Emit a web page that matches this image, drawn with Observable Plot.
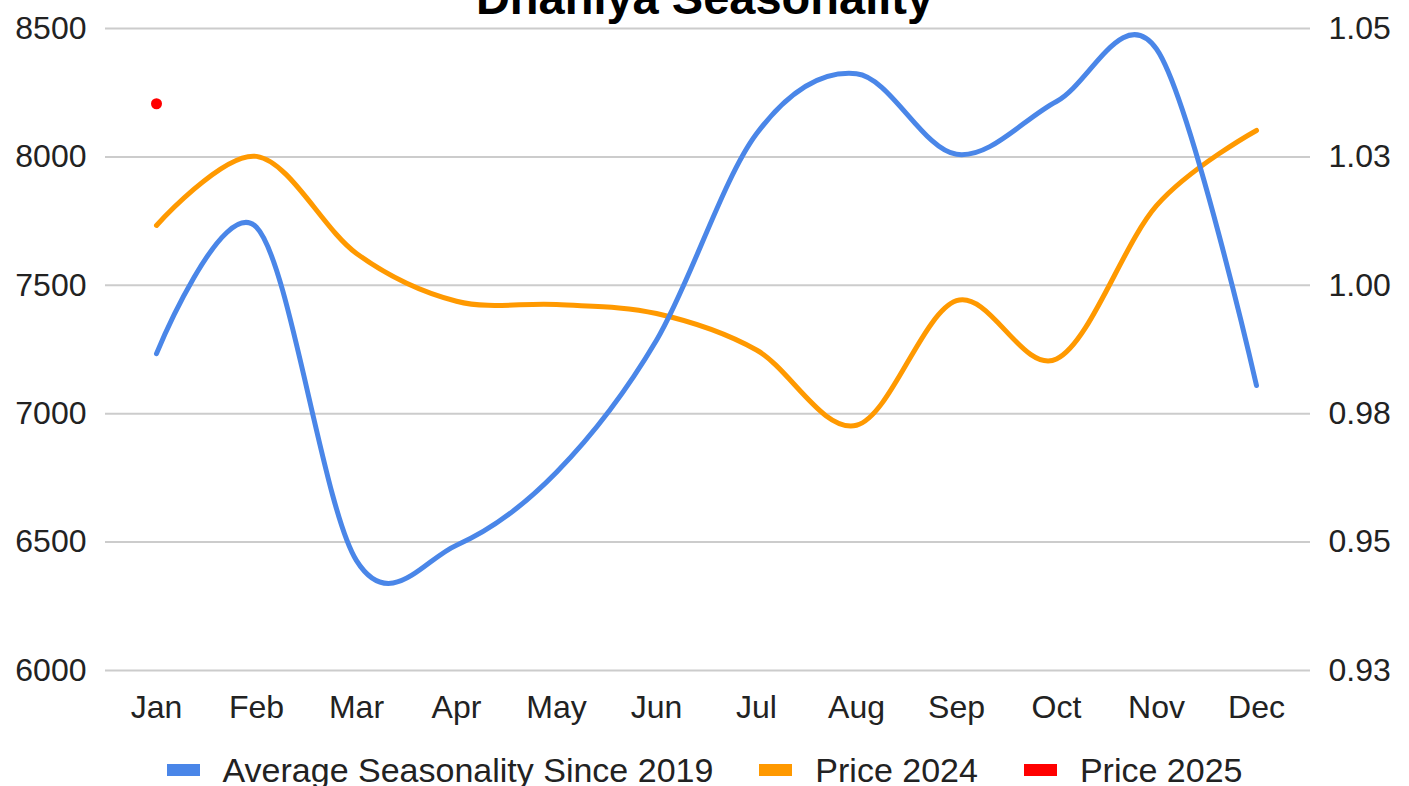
<!DOCTYPE html>
<html>
<head>
<meta charset="utf-8">
<script src="https://cdn.jsdelivr.net/npm/d3@7"></script>
<script src="https://cdn.jsdelivr.net/npm/@observablehq/plot@0.6"></script>
<style>
  html, body { margin: 0; padding: 0; background: #fff; }
  #wrap { position: relative; width: 1409px; height: 786px; overflow: hidden; font-family: Arial, "Liberation Sans", sans-serif; }
  #title { position: absolute; left: 0; width: 1409px; top: -26px; text-align: center; font-size: 47px; line-height: 47px; font-weight: bold; color: #000; }
  #chart { position: absolute; left: 0; top: 0; }
  #legend { position: absolute; left: 0; width: 1409px; top: 750px; height: 40px; display: flex; justify-content: center; align-items: center; font-size: 34px; color: #222; }
  .item { display: flex; align-items: center; margin: 0 23px; }
  .sw { width: 33px; height: 12px; margin-right: 23px; }
</style>
</head>
<body>
<div id="wrap">
  <div id="chart"></div>
  <div id="title">Dhaniya Seasonality</div>
  <div id="legend"></div>
</div>
<script>
const months = ["Jan","Feb","Mar","Apr","May","Jun","Jul","Aug","Sep","Oct","Nov","Dec"];
const seasonality = [0.9867, 1.0113, 0.9464, 0.9494, 0.9636, 0.9893, 1.0295, 1.0412, 1.0255, 1.0358, 1.0460, 0.9805];
const price2024 = [7733, 8002, 7624, 7438, 7425, 7390, 7248, 6955, 7440, 7213, 7810, 8103];
const price2025Months = ["Jan"];
const price2025 = [8207];
const priceTicks = [6000, 6500, 7000, 7500, 8000, 8500];
const seasonalityTicks = [0.925, 0.95, 0.975, 1.0, 1.025, 1.05];
const seriesNames = ["Average Seasonality Since 2019", "Price 2024", "Price 2025"];
const seriesColors = ["#4a86e8", "#ff9900", "#ff0000"];

// secondary axis mapping: seasonality -> price units
const sMin = seasonalityTicks[0], sMax = seasonalityTicks[seasonalityTicks.length - 1];
const pMin = priceTicks[0], pMax = priceTicks[priceTicks.length - 1];
const toPrice = s => pMin + (s - sMin) * (pMax - pMin) / (sMax - sMin);
const toSeason = p => sMin + (p - pMin) * (sMax - sMin) / (pMax - pMin);
const fmt2 = v => (Math.round(v * 100 + 1e-6) / 100).toFixed(2);

const seasonData = months.map((m, i) => ({month: m, value: toPrice(seasonality[i])}));
const p24Data = months.map((m, i) => ({month: m, value: price2024[i]}));
const p25Data = price2025Months.map((m, i) => ({month: m, value: price2025[i]}));

const chart = Plot.plot({
  width: 1409,
  height: 740,
  marginTop: 28,
  marginBottom: 70,
  marginLeft: 105,
  marginRight: 99,
  style: {fontFamily: 'Arial, "Liberation Sans", sans-serif', fontSize: "32px", color: "#222", background: "#fff"},
  x: {type: "point", domain: months, range: [155, 1256], padding: 0},
  y: {domain: [pMin, pMax]},
  marks: [
    Plot.ruleY(priceTicks, {stroke: "#cccccc", strokeWidth: 2}),
    Plot.axisX({tickSize: 0, tickPadding: 25, fontSize: 32, fill: "#222", label: null}),
    Plot.axisY(priceTicks, {anchor: "left", tickSize: 0, tickPadding: 19, fontSize: 32, fill: "#222", label: null,
      tickFormat: d => String(d)}),
    Plot.axisY(priceTicks, {anchor: "right", tickSize: 0, tickPadding: 18, fontSize: 32, fill: "#222", label: null,
      tickFormat: d => fmt2(toSeason(d))}),
    Plot.line(p24Data, {x: "month", y: "value", stroke: seriesColors[1], strokeWidth: 5, curve: "cardinal"}),
    Plot.line(seasonData, {x: "month", y: "value", stroke: seriesColors[0], strokeWidth: 5, curve: "cardinal"}),
    Plot.dot(p25Data, {x: "month", y: "value", fill: seriesColors[2], r: 5.5, stroke: "none"})
  ]
});
document.getElementById("chart").appendChild(chart);

const legend = document.getElementById("legend");
seriesNames.forEach((name, i) => {
  const item = document.createElement("div");
  item.className = "item";
  const sw = document.createElement("div");
  sw.className = "sw";
  sw.style.background = seriesColors[i];
  const t = document.createElement("span");
  t.textContent = name;
  item.appendChild(sw);
  item.appendChild(t);
  legend.appendChild(item);
});
</script>
</body>
</html>
